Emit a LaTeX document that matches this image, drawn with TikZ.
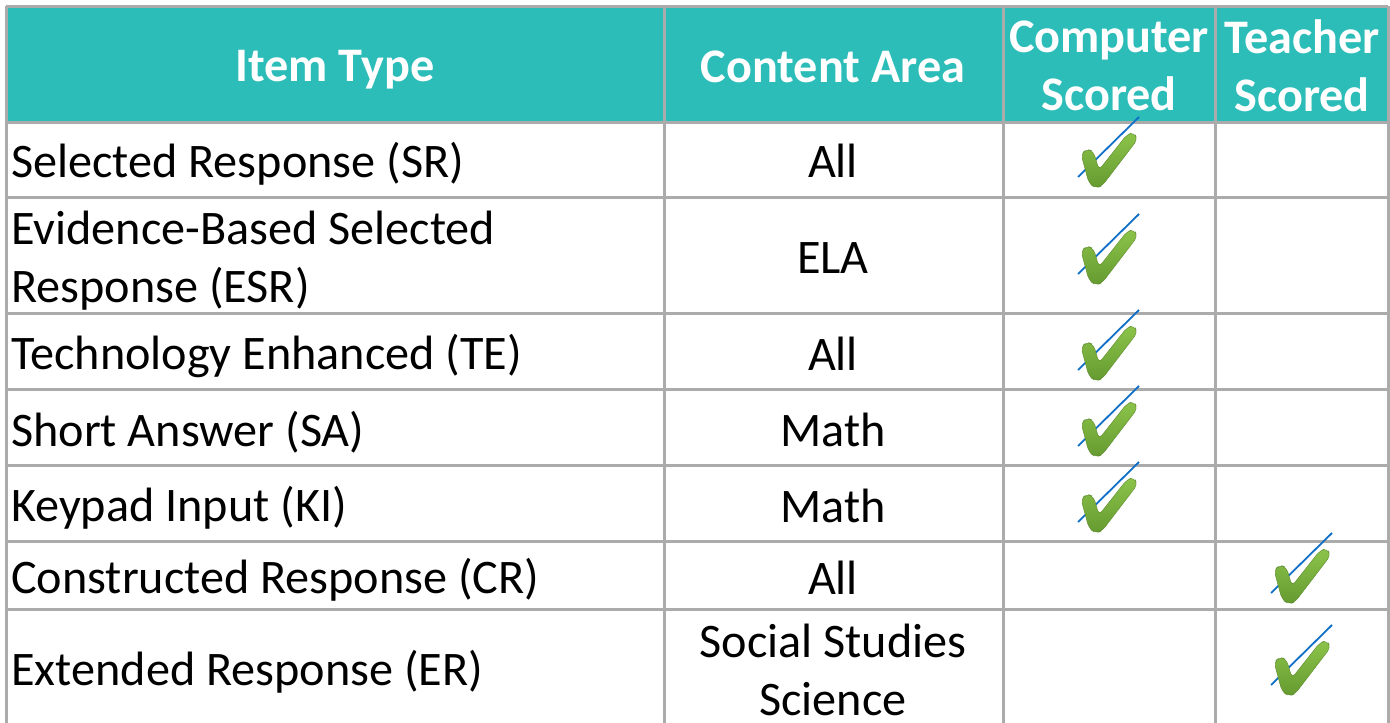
\documentclass[tikz,border=0pt]{standalone}
\usepackage{fontspec}
\setmainfont{Carlito}
\definecolor{teal}{HTML}{2DBDB9}
\definecolor{grid}{HTML}{ABABAB}
\definecolor{tick}{HTML}{1070C8}
\definecolor{chkA}{HTML}{8CC44A}
\definecolor{chkB}{HTML}{659A30}
\tikzset{
  x=1pt,y=-1pt,
  gridline/.style={draw=grid,line width=3pt},
  head/.style={text=white,font=\fontsize{48.2}{58}\selectfont\bfseries,align=center,inner sep=0pt},
  body/.style={text=black,font=\fontsize{48.2}{58}\selectfont,align=center,inner sep=0pt},
  left cell/.style={body,anchor=west,align=left},
  blue tick/.style={draw=tick,line width=1.8pt},
  check mark/.pic={
    \shade[rounded corners=4.5pt,top color=chkA,bottom color=chkB,draw=chkB!90!black,line width=0.4pt]
      (3,-23) -- (9,-28) -- (15.5,-25.5) -- (21,-7) -- (49,-42.5) -- (56,-44.5) -- (59.5,-37.5) -- (24,9) -- (17.7,11) -- (11,6.5) -- cycle;
  },
}
\begin{document}
\begin{tikzpicture}
\useasboundingbox (0,0) rectangle (1390,723);
\fill[white] (0,0) rectangle (1390,723);
\fill[teal] (6,6) rectangle (1388,122);
\foreach \yy in {6,122,197,313,389,465,541,609} \draw[gridline] (6,\yy) -- (1388,\yy);
\foreach \xx in {6,664,1003,1215,1388} \draw[gridline] (\xx,6) -- (\xx,723);
\node[head] (h1) at (335,70) {Item Type};
\node[head] (h2) at (833,67) {Content Area};
\node[head] (h3) at (1109,66) {Computer\\Scored};
\node[head] (h4) at (1302,66) {Teacher\\Scored};
\node[left cell] (a1) at (11,164) {Selected Response (SR)};
\node[left cell] (a2) at (11,261) {Evidence-Based Selected\\Response (ESR)};
\node[left cell] (a3) at (11,356) {Technology Enhanced (TE)};
\node[left cell] (a4) at (11,432) {Short Answer (SA)};
\node[left cell] (a5) at (11,508) {Keypad Input (KI)};
\node[left cell] (a6) at (11,580) {Constructed Response (CR)};
\node[left cell] (a7) at (11,672) {Extended Response (ER)};
\node[body] (b1) at (833,161) {All};
\node[body] (b2) at (833,258) {ELA};
\node[body] (b3) at (833,354) {All};
\node[body] (b4) at (833,430) {Math};
\node[body] (b5) at (833,506) {Math};
\node[body] (b6) at (833,578) {All};
\node[body] (b7) at (833,670) {Social Studies\\Science};
\foreach \px/\py in {1078/177,1078/274,1078/370,1078/446,1078/522,1271/593,1271/685}{
  \draw[blue tick] (\px,\py) -- ++(61,-60);
  \pic at (\px,\py) {check mark};
}
\end{tikzpicture}
\end{document}
